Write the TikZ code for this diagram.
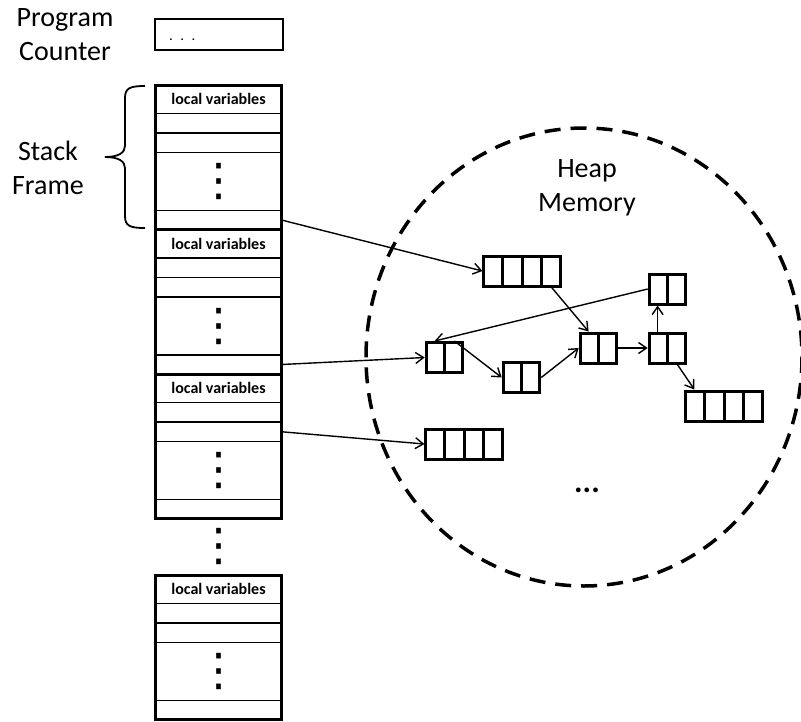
\documentclass[tikz,border=0pt]{standalone}
\usepackage{fontspec}
\setmainfont{Carlito}
\newfontfamily\symfont{DejaVu Sans}
\usetikzlibrary{positioning, fit, shapes.multipart, arrows.meta}

\newcommand{\stackdots}{{\symfont\fontsize{45}{45}\selectfont ⋮}}

\begin{document}
\begin{tikzpicture}[x=1pt, y=-1pt,
  big/.style={font=\fontsize{28}{34}\selectfont, align=center},
  head/.style={draw, line width=1.3pt, minimum width=126pt, minimum height=28.5pt, inner sep=0pt, outer sep=0pt, font=\bfseries\fontsize{16}{18}\selectfont},
  slot/.style={draw, line width=1.3pt, minimum width=126pt, minimum height=19.5pt, inner sep=0pt, outer sep=0pt},
  gap/.style={slot, minimum height=58pt},
  frame/.style={draw, line width=3pt, inner sep=0pt, outer sep=0pt},
  obj/.style={draw, line width=3pt, inner sep=0pt, rectangle split, rectangle split horizontal, rectangle split parts=#1, rectangle split empty part width=12pt, rectangle split empty part height=15pt, rectangle split empty part depth=15pt},
  ptr/.style={-{Straight Barb[length=8pt,width=11pt]}, line width=1.4pt}]
  \useasboundingbox (0,0) rectangle (801,721);

  \node[big] (pclabel) at (65,35) {Program\\Counter};
  \node[slot, minimum width=128pt, minimum height=31pt, line width=2.8pt, text width=100pt, text height=13pt, align=left, font=\fontsize{15}{18}\selectfont] (pc) at (219,34.5) {. . .};

  \node[big] (sflabel) at (48,168) {Stack\\Frame};
  \draw[line width=1.8pt] (145,86) .. controls (130,86) and (125,88) .. (125,98) -- (125,146)
    .. controls (125,153) and (118,157) .. (105,157) .. controls (118,157) and (125,161) .. (125,168)
    -- (125,216) .. controls (125,226) and (130,228) .. (145,228);

  % stack frames
  \node[head, anchor=north] (f1h) at (218.5,85) {local variables};
  \node[slot, below=0pt of f1h] (f1a) {};
  \node[slot, below=0pt of f1a] (f1b) {};
  \node[gap, below=0pt of f1b] (f1d) {\stackdots};
  \node[slot, below=0pt of f1d, minimum height=19pt] (f1z) {};
  \node[frame, fit=(f1h)(f1z)] (f1) {};

  \node[head, below=0pt of f1z] (f2h) {local variables};
  \node[slot, below=0pt of f2h] (f2a) {};
  \node[slot, below=0pt of f2a] (f2b) {};
  \node[gap, below=0pt of f2b] (f2d) {\stackdots};
  \node[slot, below=0pt of f2d, minimum height=19pt] (f2z) {};
  \node[frame, fit=(f2h)(f2z)] (f2) {};

  \node[head, below=0pt of f2z] (f3h) {local variables};
  \node[slot, below=0pt of f3h] (f3a) {};
  \node[slot, below=0pt of f3a] (f3b) {};
  \node[gap, below=0pt of f3b] (f3d) {\stackdots};
  \node[slot, below=0pt of f3d, minimum height=19pt] (f3z) {};
  \node[frame, fit=(f3h)(f3z)] (f3) {};

  \node[gap, draw=none] (more) at (218.5,546) {\stackdots};

  \node[head, anchor=north] (f4h) at (218.5,575) {local variables};
  \node[slot, below=0pt of f4h] (f4a) {};
  \node[slot, below=0pt of f4a] (f4b) {};
  \node[gap, below=0pt of f4b] (f4d) {\stackdots};
  \node[slot, below=0pt of f4d, minimum height=19pt] (f4z) {};
  \node[frame, fit=(f4h)(f4z)] (f4) {};

  % heap
  \draw[dash pattern=on 16pt off 10pt, line width=3.5pt] (584,357) ellipse [x radius=218, y radius=229];
  \node[big] (heaplabel) at (587,188) {Heap\\Memory};

  \node[obj=4] (h1) at (522,271) {};
  \node[obj=2] (h2) at (667.5,289) {};
  \node[obj=2] (h3) at (444.5,357.5) {};
  \node[obj=2] (h4) at (521.5,377.5) {};
  \node[obj=2] (h5) at (598.5,348) {};
  \node[obj=2] (h6) at (667.5,348) {};
  \node[obj=4] (h7) at (724,406) {};
  \node[obj=4] (h8) at (464,444) {};
  \node[font=\bfseries\fontsize{32}{34}\selectfont] (etc) at (587,490) {...};

  \draw[ptr] (f1z.east) -- (h1.west);
  \draw[ptr] (f2z.east) -- (h3.west);
  \draw[ptr] (f3b.east) -- (h8.west);
  \draw[ptr] (h1.four south) -- (h5.one north);
  \draw[ptr] (h2.west) -- (h3.one north);
  \draw[ptr] (h3.two north) -- (h4.west);
  \draw[ptr] (h4.east) -- (h5.west);
  \draw[ptr] (h5.east) -- (h6.west);
  \draw[ptr] (h6.one north) -- (h2.one south);
  \draw[ptr] (h6.two south) -- (h7.one north);
\end{tikzpicture}
\end{document}
